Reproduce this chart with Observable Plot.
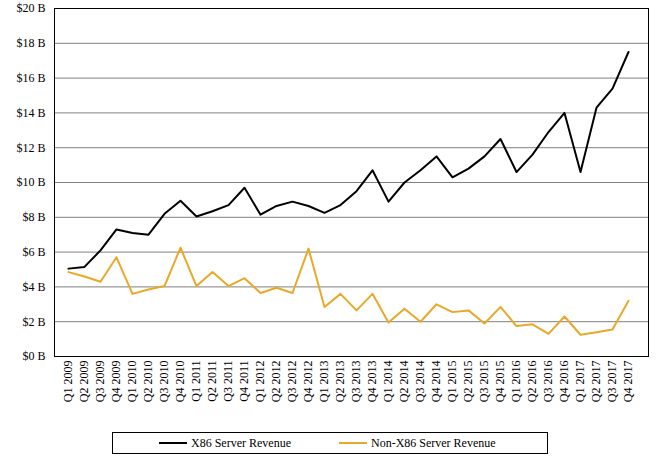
<!DOCTYPE html>
<html><head>
<script src="https://cdn.jsdelivr.net/npm/d3@7"></script>
<script src="https://cdn.jsdelivr.net/npm/@observablehq/plot@0.6"></script>
<style>
body{margin:0;background:#fff;font-family:"Liberation Serif","DejaVu Serif",serif;}
#legend{position:absolute;left:112px;top:432px;width:436px;height:22px;border:1px solid #000;box-sizing:border-box;display:flex;align-items:center;font-size:12px;color:#000}
.item{display:flex;align-items:center;margin-left:46px}
.sw{width:28px;height:0;border-top:2px solid;margin-right:4px}
</style>
</head><body>
<div id="chart"></div>
<div id="legend"><div class="item"><span class="sw" style="border-color:#000"></span>X86 Server Revenue</div><div class="item" style="margin-left:48px"><span class="sw" style="border-color:#E8A928"></span>Non-X86 Server Revenue</div></div>
<script>
const years = [2009,2010,2011,2012,2013,2014,2015,2016,2017];
const quarters = years.flatMap(y => ["Q1","Q2","Q3","Q4"].map(q => q + " " + y));
const x86 = [5.05,5.15,6.1,7.3,7.1,7.0,8.2,8.95,8.05,8.35,8.7,9.7,8.15,8.65,8.9,8.65,8.25,8.7,9.5,10.7,8.9,10.0,10.7,11.5,10.3,10.8,11.5,12.5,10.6,11.6,12.9,14.0,10.6,14.3,15.4,17.5];
const nonX86 = [4.85,4.6,4.3,5.7,3.6,3.85,4.05,6.25,4.05,4.85,4.05,4.5,3.65,3.95,3.65,6.2,2.85,3.6,2.65,3.6,1.95,2.75,2.0,3.0,2.55,2.65,1.9,2.85,1.75,1.85,1.3,2.3,1.25,1.4,1.55,3.2];
const yTicks = d3.range(0, 21, 2);
const data = [
  ...quarters.map((q,i)=>({q, v:x86[i], s:"X86 Server Revenue"})),
  ...quarters.map((q,i)=>({q, v:nonX86[i], s:"Non-X86 Server Revenue"}))
];
const chart = Plot.plot({
  width:660, height:420,
  marginLeft:54, marginRight:12, marginTop:8, marginBottom:64,
  style:{fontFamily:"Liberation Serif, DejaVu Serif, serif", fontSize:"12px", color:"#000", background:"#fff"},
  x:{type:"point", domain:quarters, padding:0, range:[55,641], label:null, tickRotate:-90, tickSize:0, tickPadding:4},
  y:{domain:[0,20], ticks:yTicks, tickFormat:d=>"$"+d+" B", label:null, tickSize:0},
  color:{domain:["X86 Server Revenue","Non-X86 Server Revenue"], range:["#000","#E8A928"]},
  marks:[
    Plot.gridY(yTicks,{stroke:"#808080", strokeOpacity:1}),
    Plot.line(data,{x:"q", y:"v", z:"s", stroke:"s", strokeWidth:2}),
    Plot.frame({stroke:"#000"})
  ]
});
document.getElementById("chart").append(chart);
</script>
</body></html>
